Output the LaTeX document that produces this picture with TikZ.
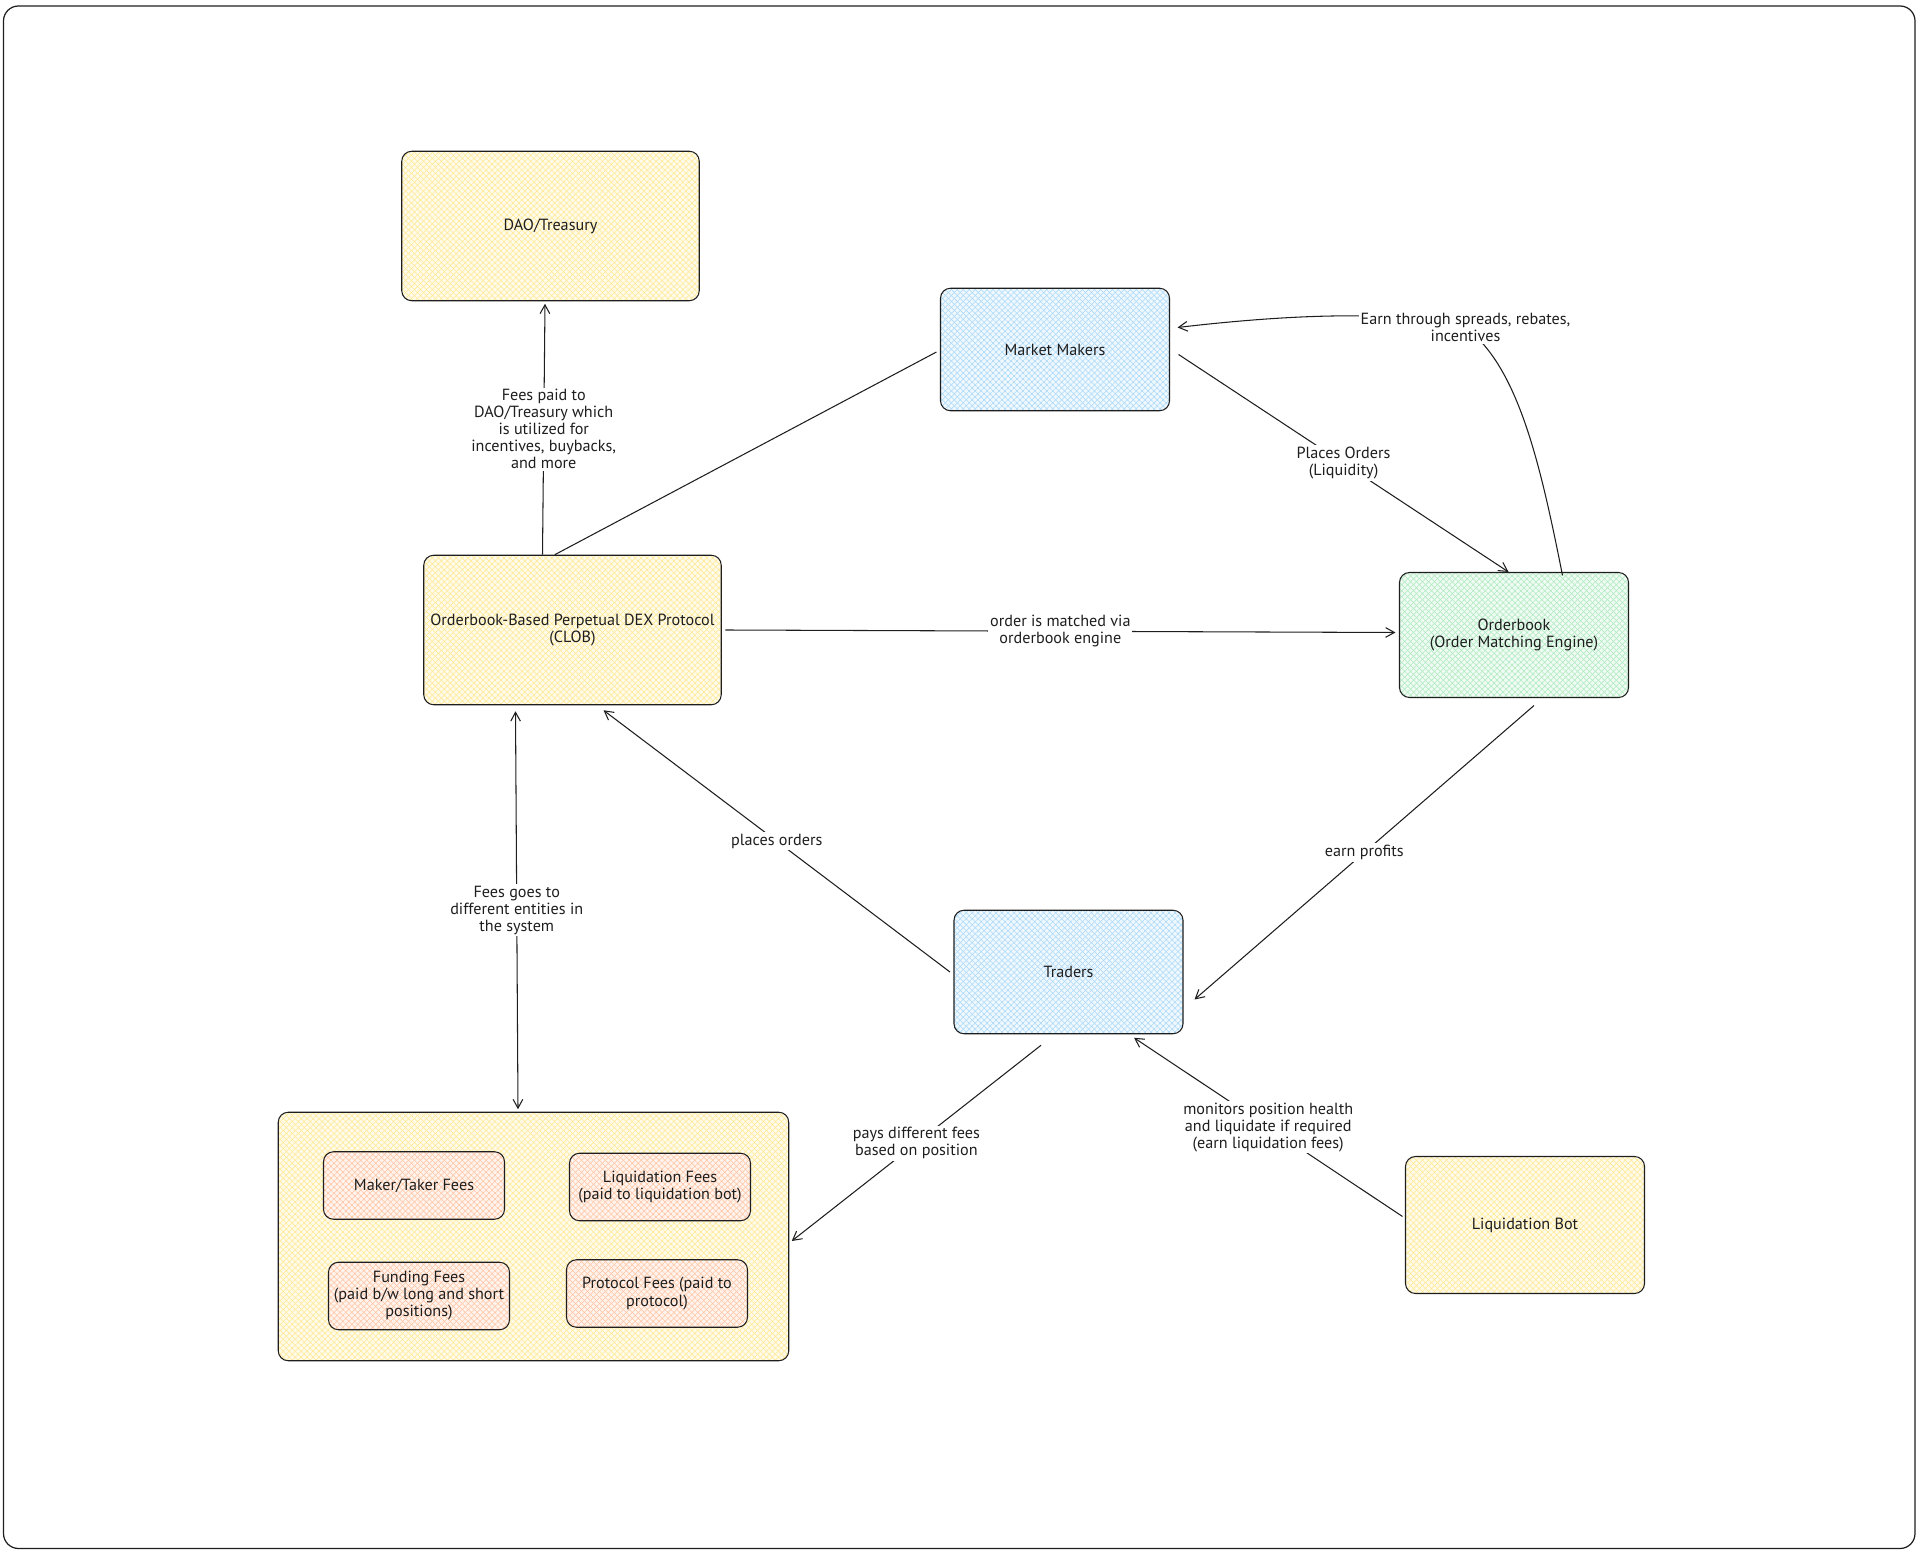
\documentclass[tikz,border=0pt]{standalone}
\usepackage{fontspec}
\setmainfont{PT Sans}
\usepackage{tikz}
\usetikzlibrary{arrows.meta,patterns.meta}

\definecolor{inkline}{HTML}{1E1E1E}
\definecolor{hatchyellow}{HTML}{FFE06A}
\definecolor{hatchblue}{HTML}{8CCBF5}
\definecolor{hatchgreen}{HTML}{8FE3A8}
\definecolor{hatchred}{HTML}{FFAE80}

\tikzset{
    box/.style={draw=inkline, line width=0.6pt, rounded corners=0.2cm, align=center, inner sep=1pt,
        font=\fontsize{9.2}{9.7}\selectfont, text=inkline},
    hatched/.style={
        preaction={fill=#1!14},
        preaction={pattern={Lines[angle=45,distance=2.4pt,line width=0.3pt]}, pattern color=#1!75},
        preaction={pattern={Lines[angle=-45,distance=2.4pt,line width=0.3pt]}, pattern color=#1!75}},
    conn/.style={draw=inkline, line width=0.6pt, ->},
    lbl/.style={fill=white, align=center, inner sep=1pt, font=\fontsize{9.2}{9.7}\selectfont, text=inkline},
    >={Straight Barb[length=5pt,width=5.5pt]}
}

\begin{document}
\begin{tikzpicture}
    \useasboundingbox (0,0) rectangle (38.4,31.02);

    % Outer frame
    \draw[draw=inkline, line width=0.7pt, rounded corners=0.3cm] (0.07,0.05) rectangle (38.30,30.90);

    % Main boxes
    \node[box, hatched=hatchyellow, minimum width=5.95cm, minimum height=2.99cm] (dao) at (11.01,26.50) {DAO/Treasury};
    \node[box, hatched=hatchblue, minimum width=4.58cm, minimum height=2.45cm] (mm) at (21.10,24.03) {Market Makers};
    \node[box, hatched=hatchyellow, minimum width=5.95cm, minimum height=2.99cm] (dex) at (11.45,18.42) {Orderbook-Based Perpetual DEX Protocol\\(CLOB)};
    \node[box, hatched=hatchgreen, minimum width=4.58cm, minimum height=2.50cm] (ob) at (30.28,18.32) {Orderbook\\(Order Matching Engine)};
    \node[box, hatched=hatchblue, minimum width=4.58cm, minimum height=2.47cm] (traders) at (21.37,11.58) {Traders};
    \node[box, hatched=hatchyellow, minimum width=4.78cm, minimum height=2.74cm] (bot) at (30.50,6.52) {Liquidation Bot};

    % Fees container
    \node[box, hatched=hatchyellow, minimum width=10.21cm, minimum height=4.97cm] (fees) at (10.67,6.29) {};
    \node[box, hatched=hatchred, minimum width=3.62cm, minimum height=1.35cm] (maker) at (8.28,7.31) {Maker/Taker Fees};
    \node[box, hatched=hatchred, minimum width=3.62cm, minimum height=1.35cm] (liqfees) at (13.20,7.28) {Liquidation Fees\\(paid to liquidation bot)};
    \node[box, hatched=hatchred, minimum width=3.62cm, minimum height=1.35cm] (funding) at (8.38,5.10) {Funding Fees\\(paid b/w long and short\\positions)};
    \node[box, hatched=hatchred, minimum width=3.62cm, minimum height=1.35cm] (protocol) at (13.14,5.15) {Protocol Fees (paid to\\protocol)};

    % Connectors
    \draw[conn] ([xshift=-0.60cm]dex.north) -- node[lbl] {Fees paid to\\DAO/Treasury which\\is utilized for\\incentives, buybacks,\\and more} ([xshift=-0.11cm,yshift=-0.05cm]dao.south);
    \draw[draw=inkline, line width=0.6pt] ([xshift=-0.355cm]dex.north) -- ([xshift=-0.07cm,yshift=-0.05cm]mm.west);
    \draw[conn] ([xshift=0.17cm,yshift=-0.10cm]mm.east) -- node[lbl] {Places Orders\\(Liquidity)} ([xshift=-0.11cm]ob.north);
    \draw[conn] ([xshift=0.97cm,yshift=-0.07cm]ob.north) .. controls (30.81,21.72) and (30.37,23.68) .. (29.31,24.47)
        node[lbl] {Earn through spreads, rebates,\\incentives}
        .. controls (28.16,24.78) and (26.20,24.78) .. ([xshift=0.15cm,yshift=0.44cm]mm.east);
    \draw[conn] ([xshift=0.07cm]dex.east) -- node[lbl] {order is matched via\\orderbook engine} ([xshift=-0.07cm,yshift=0.05cm]ob.west);
    \draw[conn] ([xshift=0.40cm,yshift=-0.15cm]ob.south) -- node[lbl] {earn profits} ([xshift=0.22cm,yshift=-0.55cm]traders.east);
    \draw[conn] ([xshift=-0.07cm]traders.west) -- node[lbl] {places orders} ([xshift=0.62cm,yshift=-0.10cm]dex.south);
    \draw[conn, <->] ([xshift=-1.14cm,yshift=-0.12cm]dex.south) -- node[lbl] {Fees goes to\\different entities in\\the system} ([xshift=-0.31cm,yshift=0.05cm]fees.north);
    \draw[conn] ([xshift=-0.55cm,yshift=-0.22cm]traders.south) -- node[lbl] {pays different fees\\based on position} ([xshift=0.05cm,yshift=-0.09cm]fees.east);
    \draw[conn] ([xshift=-0.05cm,yshift=0.17cm]bot.west) -- node[lbl] {monitors position health\\and liquidate if required\\(earn liquidation fees)} ([xshift=1.31cm,yshift=-0.07cm]traders.south);

\end{tikzpicture}
\end{document}
